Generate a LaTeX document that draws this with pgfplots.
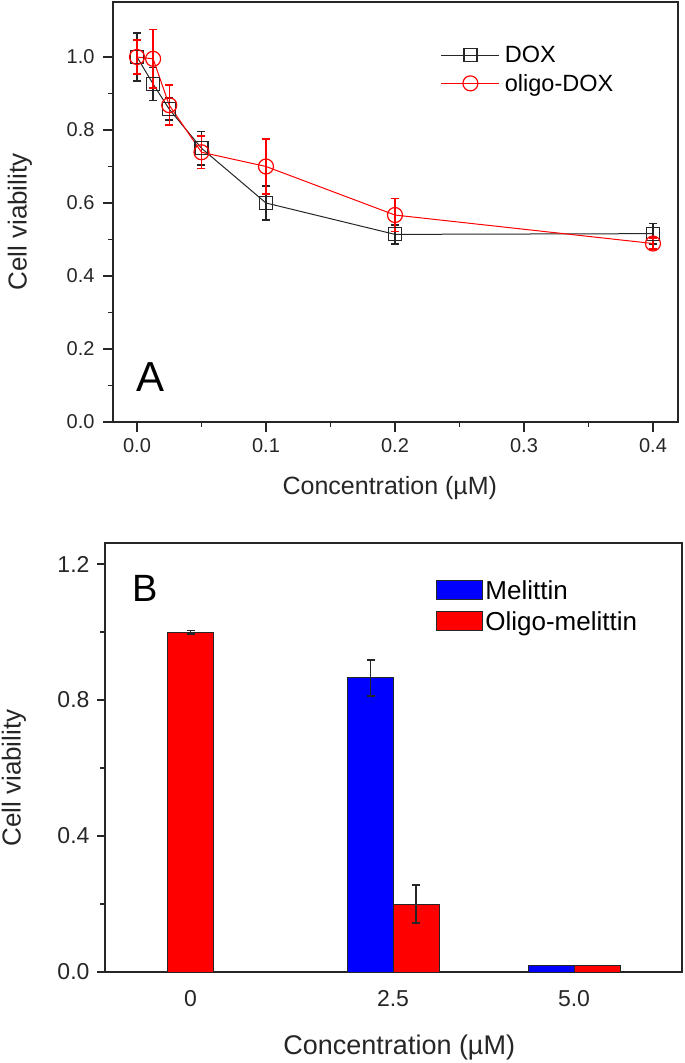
\documentclass[border=0pt]{standalone}
\usepackage{pgfplots}
\pgfplotsset{compat=1.18}
\usepackage{fontspec}
\setmainfont{Liberation Sans}
\begin{document}
\begin{tikzpicture}
\useasboundingbox (0pt,0pt) rectangle (685pt,1063pt);
% ---------------- Panel A ----------------
\begin{axis}[
  at={(113pt,641pt)}, anchor=south west,
  width=565pt, height=420pt, scale only axis,
  xmin=-0.0186, xmax=0.4194, ymin=0, ymax=1.1507,
  axis line style={line width=1.2pt, black!85},
  tick style={line width=1.2pt, black!85},
  major tick length=10pt, minor tick length=5pt,
  tick align=outside, tick pos=left,
  xtick={0,0.1,0.2,0.3,0.4}, minor x tick num=1,
  ytick={0,0.2,0.4,0.6,0.8,1.0}, minor y tick num=1,
  ticklabel style={font=\fontsize{20}{22}\selectfont, black!85},
  xticklabel style={yshift=-3pt},
  yticklabel style={xshift=-5pt},
  /pgf/number format/.cd, fixed, fixed zerofill, precision=1, assume math mode=true,
  /pgfplots/.cd,
  xlabel={Concentration (\textmu M)},
  ylabel={Cell viability},
  xlabel style={font=\fontsize{25}{28}\selectfont, black!85, at={(axis description cs:0.49,-0.157)}, anchor=center},
  ylabel style={font=\fontsize{26}{28}\selectfont, black!85, at={(axis description cs:-0.165,0.476)}, anchor=center, rotate=0},
  legend style={draw=none, fill=none, at={(0.58,0.9)}, anchor=north west,
     font=\fontsize{23.5}{26}\selectfont, row sep=6pt, inner sep=0pt,
     nodes={inner xsep=5pt}},
  legend cell align=left,
  legend image code/.code={\draw[mark repeat=2,mark phase=2,#1] plot coordinates {(0pt,0pt) (29pt,0pt) (58pt,0pt)};},
]
\addplot[black!85, line width=1pt, mark=square, mark size=6.5pt,
  mark options={fill=white, solid, line width=1.2pt},
  error bars/.cd, y dir=both, y explicit,
  error bar style={line width=1.3pt, black!85},
  error mark options={rotate=90, mark size=4pt, line width=1.5pt, black!85}]
coordinates {
 (0,1.0) +- (0,0.066)
 (0.0125,0.926) +- (0,0.045)
 (0.025,0.857) +- (0,0.03)
 (0.05,0.75) +- (0,0.046)
 (0.1,0.60) +- (0,0.047)
 (0.2,0.514) +- (0,0.026)
 (0.4,0.516) +- (0,0.028)
};
\addlegendentry{DOX}
\addplot[red, line width=1pt, mark=o, mark size=7.5pt,
  mark options={fill=white, solid, line width=1.2pt},
  error bars/.cd, y dir=both, y explicit,
  error bar style={line width=1.3pt, red},
  error mark options={rotate=90, mark size=4pt, line width=1.5pt, red}]
coordinates {
 (0,1.0) +- (0,0.046)
 (0.0125,0.995) +- (0,0.08)
 (0.025,0.868) +- (0,0.055)
 (0.05,0.739) +- (0,0.045)
 (0.1,0.70) +- (0,0.075)
 (0.2,0.567) +- (0,0.045)
 (0.4,0.489) +- (0,0.015)
};
\addlegendentry{oligo-DOX}
\node[font=\fontsize{42}{42}\selectfont, anchor=center] at (rel axis cs:0.066,0.107) {A};
\end{axis}
% ---------------- Panel B ----------------
\begin{axis}[
  at={(105pt,91pt)}, anchor=south west,
  width=577pt, height=429pt, scale only axis,
  xmin=1.05, xmax=6.82, ymin=0, ymax=1.262,
  ybar, bar width=0.46, bar shift=0pt,
  axis line style={line width=1.2pt, black!85},
  tick style={line width=1.2pt, black!85},
  major tick length=8pt, minor tick length=5pt,
  tick align=outside, tick pos=left,
  xtick={1.905,3.93,5.74}, xticklabels={0,2.5,5.0},
  xtick style={draw=none},
  ytick={0,0.4,0.8,1.2}, minor y tick num=1,
  ticklabel style={font=\fontsize{23}{26}\selectfont, black!85},
  xticklabel style={yshift=-7pt},
  yticklabel style={xshift=-4pt},
  /pgf/number format/.cd, fixed, fixed zerofill, precision=1, assume math mode=true,
  /pgfplots/.cd,
  xlabel={Concentration (\textmu M)},
  ylabel={Cell viability},
  xlabel style={font=\fontsize{27}{30}\selectfont, black!85, at={(axis description cs:0.51,-0.175)}, anchor=center},
  ylabel style={font=\fontsize{26}{28}\selectfont, black!85, at={(axis description cs:-0.158,0.452)}, anchor=center, rotate=0},
  legend style={draw=none, fill=none, at={(0.574,0.918)}, anchor=north west,
     font=\fontsize{26}{28}\selectfont, row sep=7pt, inner sep=0pt,
     nodes={inner sep=2pt}},
  legend cell align=left,
  legend image code/.code={\draw[#1, line width=1pt] (0pt,-9pt) rectangle (46pt,10pt);},
]
\addplot[fill=blue, draw=black!85, line width=1pt] coordinates {(3.705,0.865) (5.515,0.02)};
\addlegendentry{Melittin}
\addplot[fill=red, draw=black!85, line width=1pt] coordinates {(1.905,1.0) (4.16,0.2) (5.97,0.02)};
\addlegendentry{Oligo-melittin}
\addplot[draw=none, fill=none, forget plot,
  error bars/.cd, y dir=both, y explicit,
  error bar style={line width=1.3pt, black!85},
  error mark options={rotate=90, mark size=4pt, line width=1.5pt, black!85}]
coordinates {(3.705,0.865) +- (0,0.053) (1.905,1.0) +- (0,0.005) (4.16,0.2) +- (0,0.056)};
\node[font=\fontsize{38}{38}\selectfont, anchor=center] at (rel axis cs:0.069,0.895) {B};
\end{axis}
\end{tikzpicture}
\end{document}
